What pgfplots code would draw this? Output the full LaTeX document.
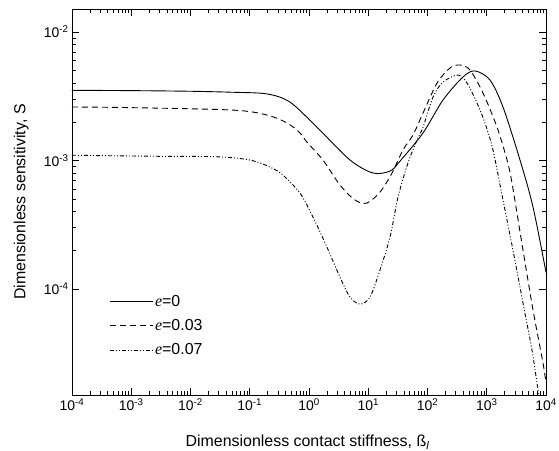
\documentclass[border=0pt]{standalone}
\usepackage{pgfplots}
\pgfplotsset{compat=1.18}
\usepackage{fontspec}
\setmainfont{Liberation Sans}
\newfontfamily\serifit{Liberation Serif}
\begin{document}
\begin{tikzpicture}
\begin{axis}[
  scale only axis, width=474bp, height=386bp,
  xmode=log, ymode=log,
  xmin=1e-4, xmax=1e4, ymin=1.5e-5, ymax=1.51e-2,
  xtick={1e-4,1e-3,1e-2,1e-1,1,1e1,1e2,1e3,1e4},
  xticklabels={10\textsuperscript{-4},10\textsuperscript{-3},10\textsuperscript{-2},10\textsuperscript{-1},10\textsuperscript{0},10\textsuperscript{1},10\textsuperscript{2},10\textsuperscript{3},10\textsuperscript{4}},
  ytick={1e-4,1e-3,1e-2},
  yticklabels={10\textsuperscript{-4},10\textsuperscript{-3},10\textsuperscript{-2}},
  major tick length=7bp, minor tick length=4bp,
  every tick/.style={black, line width=0.6bp},
  axis line style={line width=0.9bp},
  tick label style={font=\fontsize{14}{16}\selectfont},
  label style={font=\fontsize{16}{19}\selectfont},
  xlabel={Dimensionless contact stiffness, ß\textsubscript{\textit{l}}},
  ylabel={Dimensionless sensitivity, S},
  xlabel style={at={(axis description cs:0.497,-0.122)}, anchor=center},
  ylabel style={at={(axis description cs:-0.107,0.5)}, anchor=center},
  legend style={draw=none, fill=none, at={(0.076,0.266)}, anchor=north west, row sep=7.5bp, inner sep=1bp, font=\fontsize{16}{19}\selectfont},
  legend cell align=left,
  legend image code/.code={\draw[#1] (0bp,0bp) -- (43bp,0bp);},
]
\addplot[black, line width=0.9bp, smooth] coordinates {
(1e-4,3.52e-3)(1e-3,3.50e-3)(1e-2,3.46e-3)(0.05,3.40e-3)(0.195,3.30e-3)(0.477,2.85e-3)
(1.36,1.82e-3)(4.92,1.01e-3)(12.0,8.0e-4)(23.3,8.28e-4)(34.4,9.9e-4)(84,1.64e-3)
(183,2.96e-3)(397,4.47e-3)(634,4.98e-3)(1135,4.23e-3)(1880,2.61e-3)(3640,1.01e-3)
(6040,4.35e-4)(1e4,1.35e-4)};
\addlegendentry{{\serifit\itshape e}=0}
\addplot[black, line width=0.9bp, smooth, dash pattern=on 6bp off 4bp] coordinates {
(1e-4,2.61e-3)(1e-3,2.58e-3)(0.0521,2.47e-3)(0.195,2.26e-3)(0.426,1.96e-3)(0.705,1.64e-3)
(0.925,1.39e-3)(1.72,1.01e-3)(3.33,6.45e-4)(5.97,4.93e-4)(9.5,4.67e-4)(15.8,5.69e-4)
(25.2,8.0e-4)(38.6,1.21e-3)(56.9,1.58e-3)(84,2.34e-3)(145,4.01e-3)(240,5.25e-3)
(354,5.54e-3)(522,5.06e-3)(865,3.35e-3)(1490,1.82e-3)(2200,1.01e-3)(2670,6.68e-4)
(4090,2.01e-4)(6040,6.87e-5)(8900,2.66e-5)(1e4,1.86e-5)};
\addlegendentry{{\serifit\itshape e}=0.03}
\addplot[black, line width=0.9bp, smooth, dash pattern=on 4bp off 2bp on 1bp off 2bp on 1bp off 2bp] coordinates {
(1e-4,1.10e-3)(2.33e-3,1.08e-3)(0.028,1.07e-3)(0.1,1.01e-3)(0.22,8.9e-4)(0.364,7.7e-4)
(0.705,5.58e-4)(1.17,3.63e-4)(2.01,2.12e-4)(3.33,1.24e-4)(4.92,8.67e-5)(7.26,7.64e-5)
(10.7,8.67e-5)(15.8,1.41e-4)(23.3,2.54e-4)(31.8,5.2e-4)(46.9,9.6e-4)(66.5,1.44e-3)
(84,1.82e-3)(124,3.12e-3)(183,4.08e-3)(327,4.63e-3)(464,4.01e-3)(685,2.80e-3)
(933,1.96e-3)(1274,1.21e-3)(1880,4.93e-4)(2770,2.01e-4)(4090,7.79e-5)(5810,3.35e-5)
(7050,1.86e-5)(7620,1.5e-5)};
\addlegendentry{{\serifit\itshape e}=0.07}
\end{axis}
\pgfresetboundingbox
\path[use as bounding box] ([xshift=-72bp,yshift=-56bp]current axis.south west) rectangle ([xshift=13bp,yshift=9bp]current axis.north east);
\end{tikzpicture}
\end{document}
